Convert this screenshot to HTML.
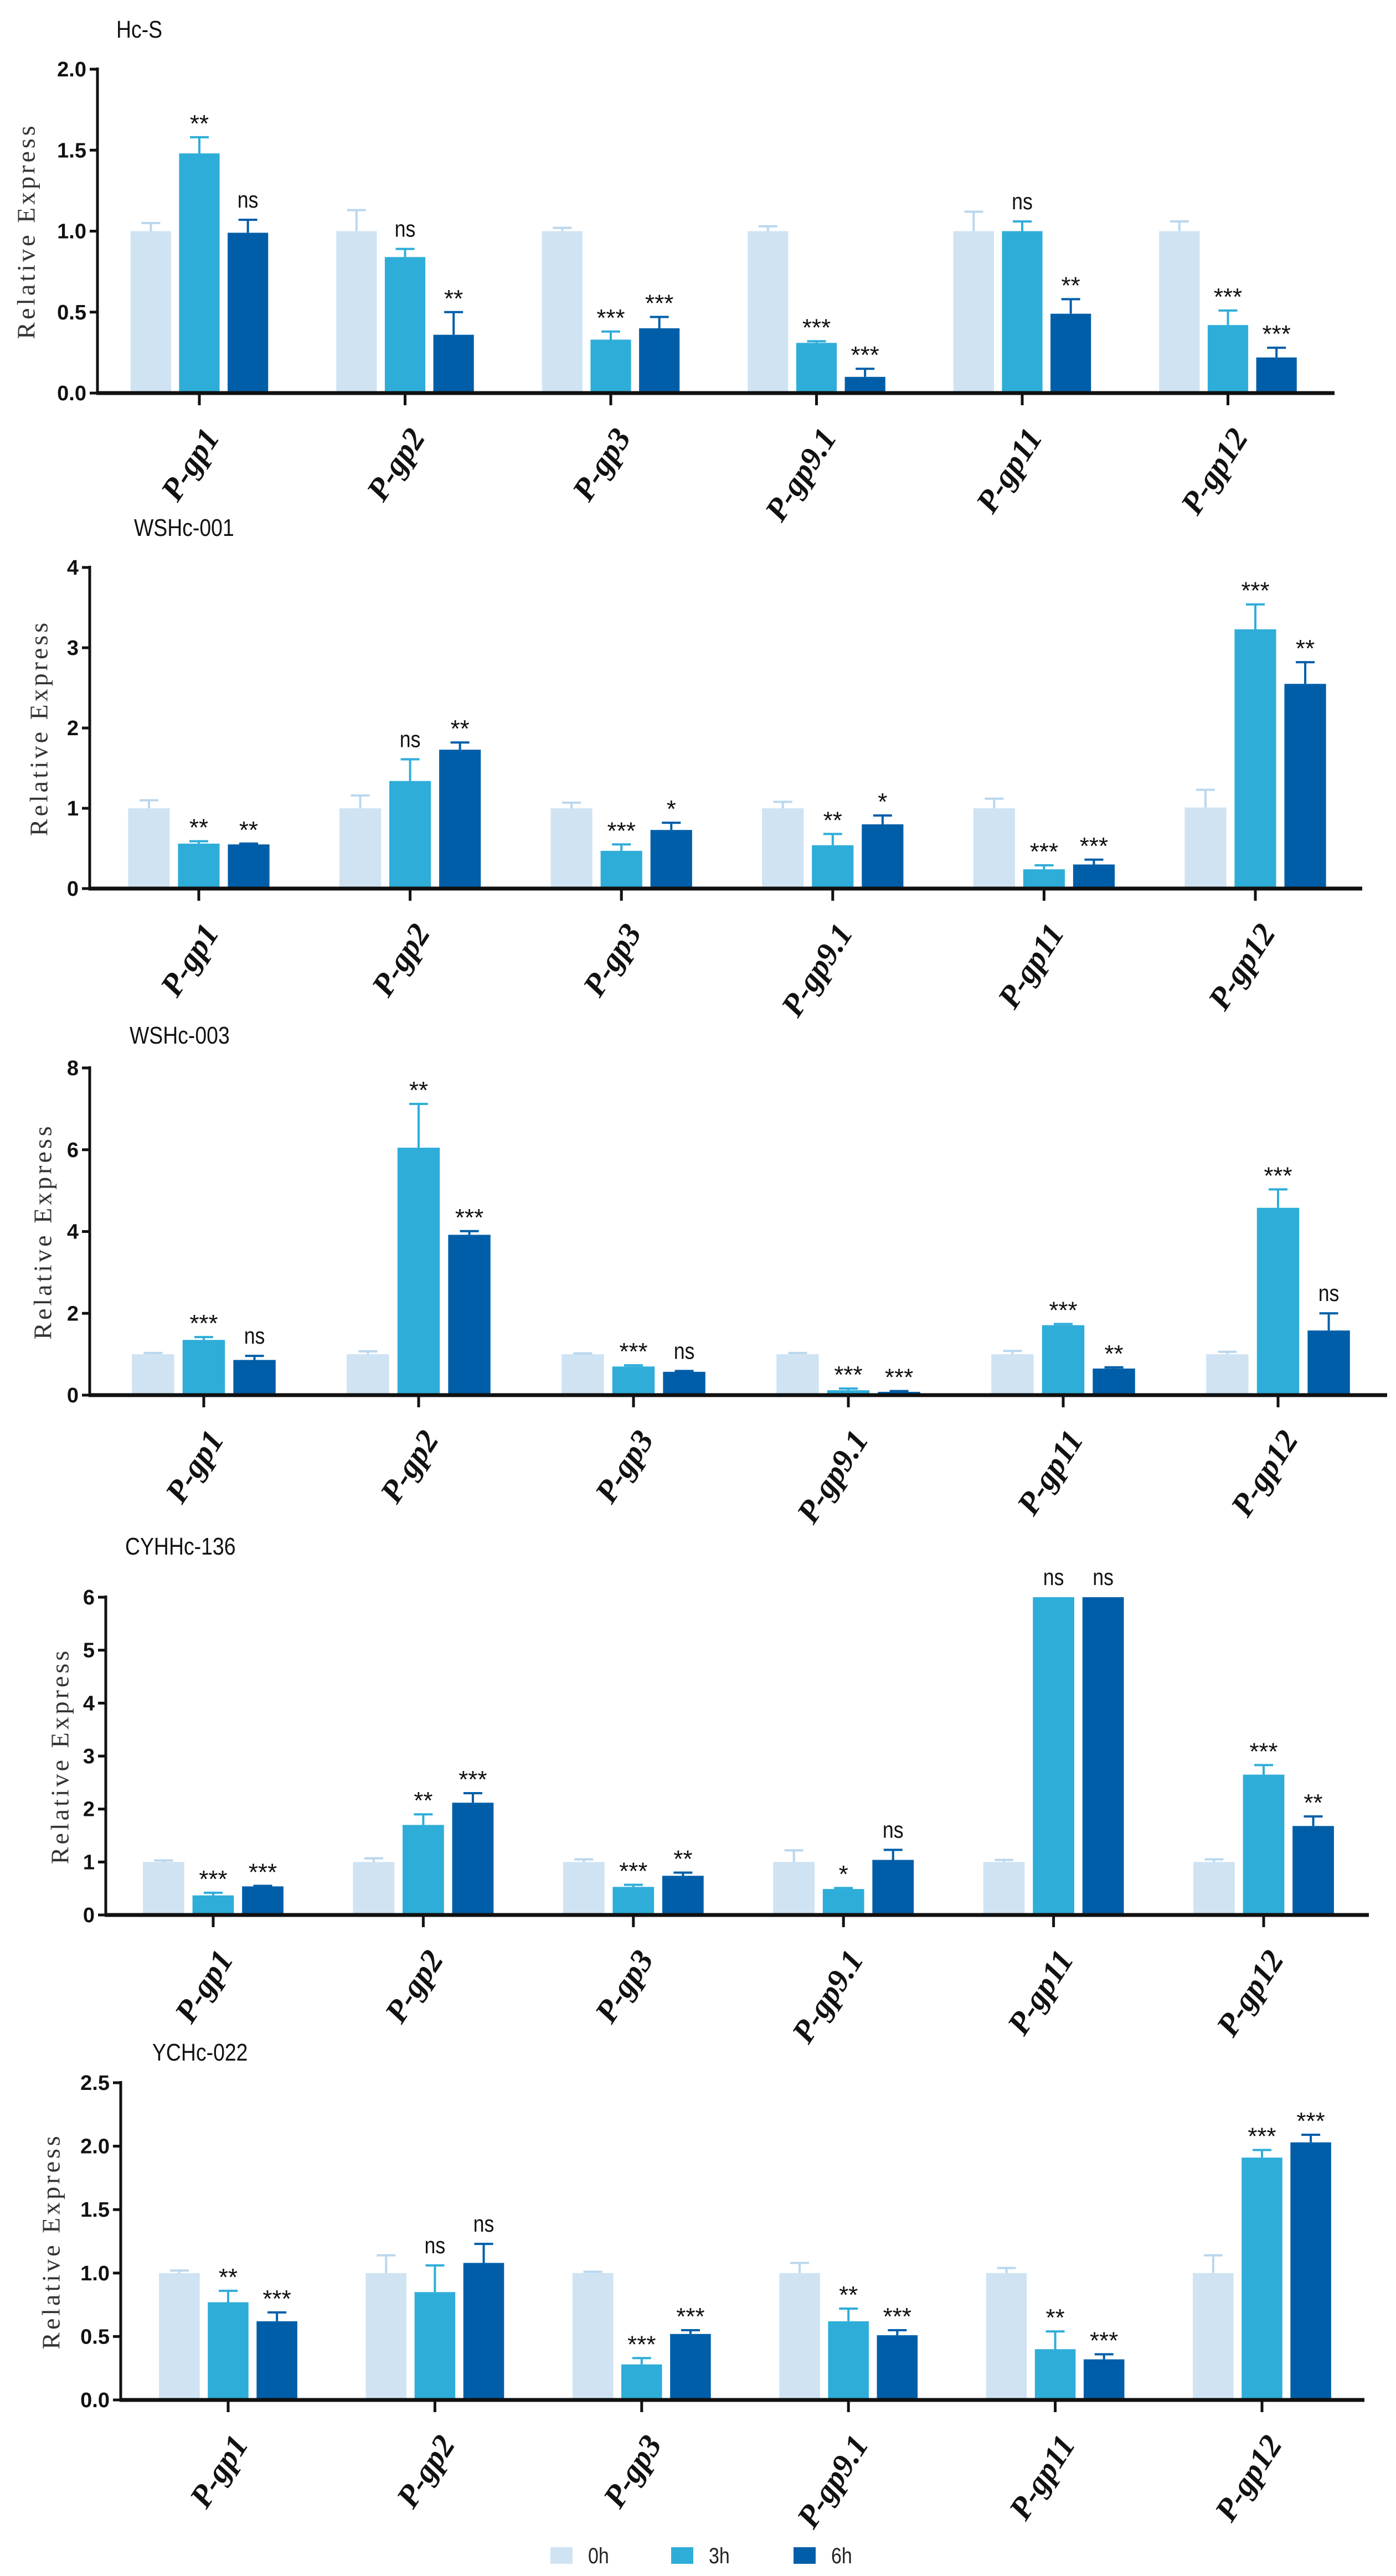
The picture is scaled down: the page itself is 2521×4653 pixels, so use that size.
<!DOCTYPE html>
<html><head><meta charset="utf-8"><style>
html,body{margin:0;padding:0;background:#fff;}
svg{display:block;}
</style></head><body>
<svg id="fig" width="2521" height="4653" viewBox="0 0 2521 4653" xmlns="http://www.w3.org/2000/svg"></svg>
<script>
const genes = ["P-gp1","P-gp2","P-gp3","P-gp9.1","P-gp11","P-gp12"];
const seriesNames = ["0h","3h","6h"];
// Panel 1: Hc-S
const hcs0 = [1,1,1,1,1,1];
const hcs0Err = [0.05,0.13,0.02,0.03,0.12,0.06];
const hcs3 = [1.48,0.84,0.33,0.31,1.0,0.42];
const hcs3Err = [0.10,0.05,0.05,0.01,0.06,0.09];
const hcs6 = [0.99,0.36,0.40,0.10,0.49,0.22];
const hcs6Err = [0.08,0.14,0.07,0.05,0.09,0.06];
const hcsSig3 = ["**","ns","***","***","ns","***"];
const hcsSig6 = ["ns","**","***","***","**","***"];
const hcsTicks = ["0.0","0.5","1.0","1.5","2.0"];
// Panel 2: WSHc-001
const w1_0 = [1,1,1,1,1,1.01];
const w1_0Err = [0.10,0.16,0.07,0.08,0.12,0.22];
const w1_3 = [0.56,1.34,0.47,0.54,0.24,3.23];
const w1_3Err = [0.03,0.27,0.08,0.14,0.05,0.31];
const w1_6 = [0.55,1.73,0.73,0.80,0.30,2.55];
const w1_6Err = [0.01,0.09,0.09,0.11,0.06,0.27];
const w1Sig3 = ["**","ns","***","**","***","***"];
const w1Sig6 = ["**","**","*","*","***","**"];
const w1Ticks = ["0","1","2","3","4"];
// Panel 3: WSHc-003
const w3_0 = [1,1,1,1,1,1];
const w3_0Err = [0.03,0.07,0.02,0.03,0.08,0.06];
const w3_3 = [1.35,6.05,0.70,0.12,1.71,4.58];
const w3_3Err = [0.07,1.07,0.03,0.04,0.03,0.45];
const w3_6 = [0.86,3.92,0.57,0.08,0.65,1.58];
const w3_6Err = [0.10,0.09,0.02,0.02,0.03,0.42];
const w3Sig3 = ["***","**","***","***","***","***"];
const w3Sig6 = ["ns","***","ns","***","**","ns"];
const w3Ticks = ["0","2","4","6","8"];
// Panel 4: CYHHc-136
const c_0 = [1,1,1,1,1,1];
const c_0Err = [0.03,0.07,0.05,0.22,0.04,0.05];
const c_3 = [0.37,1.70,0.53,0.49,6,2.65];
const c_3Err = [0.05,0.20,0.04,0.02,0,0.18];
const c_6 = [0.54,2.12,0.74,1.04,6,1.68];
const c_6Err = [0.01,0.18,0.06,0.19,0,0.18];
const cSig3 = ["***","**","***","*","ns","***"];
const cSig6 = ["***","***","**","ns","ns","**"];
const cTicks = ["0","1","2","3","4","5","6"];
// Panel 5: YCHc-022
const y_0 = [1,1,1,1,1,1];
const y_0Err = [0.02,0.14,0.01,0.08,0.04,0.14];
const y_3 = [0.77,0.85,0.28,0.62,0.40,1.91];
const y_3Err = [0.09,0.21,0.05,0.10,0.14,0.06];
const y_6 = [0.62,1.08,0.52,0.51,0.32,2.03];
const y_6Err = [0.07,0.15,0.03,0.04,0.04,0.06];
const ySig3 = ["**","ns","***","**","**","***"];
const ySig6 = ["***","ns","***","***","***","***"];
const yTicks = ["0.0","0.5","1.0","1.5","2.0","2.5"];

const NS = "http://www.w3.org/2000/svg";
const svg = document.getElementById("fig");
const colors = ["#cfe3f3","#2fadd9","#005ea8"];
const errColors = ["#b9d7ee","#2fadd9","#005ea8"];
function mk(tag, attrs, parent){
  const e = document.createElementNS(NS, tag);
  for (const k in attrs) e.setAttribute(k, attrs[k]);
  (parent||svg).appendChild(e);
  return e;
}
const panels = [
  {title:"Hc-S", tx:210, ty:68, ax:176, top:125, bot:710, xEnd:2410, c0:360, step:371.5, ytx:52,
   vals:[hcs0,hcs3,hcs6], errs:[hcs0Err,hcs3Err,hcs6Err], sig:[null,hcsSig3,hcsSig6], ticks:hcsTicks},
  {title:"WSHc-001", tx:242, ty:968, ax:162, top:1025, bot:1605, xEnd:2460, c0:359, step:381.6, ytx:75,
   vals:[w1_0,w1_3,w1_6], errs:[w1_0Err,w1_3Err,w1_6Err], sig:[null,w1Sig3,w1Sig6], ticks:w1Ticks},
  {title:"WSHc-003", tx:234, ty:1885, ax:162, top:1929, bot:2520, xEnd:2505, c0:368, step:388, ytx:82,
   vals:[w3_0,w3_3,w3_6], errs:[w3_0Err,w3_3Err,w3_6Err], sig:[null,w3Sig3,w3Sig6], ticks:w3Ticks},
  {title:"CYHHc-136", tx:226, ty:2808, ax:191, top:2885, bot:3459, xEnd:2472, c0:385, step:379.4, ytx:113,
   vals:[c_0,c_3,c_6], errs:[c_0Err,c_3Err,c_6Err], sig:[null,cSig3,cSig6], ticks:cTicks},
  {title:"YCHc-022", tx:275, ty:3722, ax:218, top:3762, bot:4335, xEnd:2464, c0:412, step:373.4, ytx:97,
   vals:[y_0,y_3,y_6], errs:[y_0Err,y_3Err,y_6Err], sig:[null,ySig3,ySig6], ticks:yTicks}
];
panels.forEach((p, pi) => {
  const g = mk("g", {});
  
  
  const ymax = parseFloat(p.ticks[p.ticks.length-1]);
  const yS = v => p.bot - (v / ymax) * (p.bot - p.top);
  const xS = i => p.c0 + i * p.step;
  const bw = p.step * 0.197, pitch = p.step * 0.236;
  const t = mk("text", {x:p.tx/0.85, y:p.ty, "font-family":"'Liberation Sans', sans-serif", "font-size":44, fill:"#111", transform:`scale(0.85,1)`}, g);
  t.textContent = p.title;
  
  
  for (let s = 0; s < 3; s++) {
    for (let i = 0; i < genes.length; i++) {
      const cx = xS(i) + (s-1) * pitch;
      const v = p.vals[s][i], e = p.errs[s][i];
      const r = mk("rect", {x:cx-bw/2, y:yS(v), width:bw, height:p.bot-yS(v), fill:colors[s]}, g);
      
      
      if (e > 0) {
        const eb = mk("path", {d:`M${cx} ${yS(v)} V${yS(v+e)} M${cx-17} ${yS(v+e)} H${cx+17}`, stroke:errColors[s], "stroke-width":4, fill:"none"}, g);
        
        
      }
      const sg = p.sig[s] ? p.sig[s][i] : null;
      if (sg) {
        const isNs = sg === "ns";
        const st = mk("text", {x:cx, y:yS(v+e) - (isNs ? 22 : 10), "text-anchor":"middle", "font-family":"'Liberation Sans', sans-serif", "font-size":isNs?42:44, fill:"#111"}, g);
        if (isNs) { st.setAttribute("transform", `translate(${cx},0) scale(0.85,1) translate(${-cx},0)`); }
        st.textContent = sg;
        
        
      }
    }
  }
  const ya = mk("line", {x1:p.ax, y1:p.top-3, x2:p.ax, y2:p.bot, stroke:"#111", "stroke-width":5}, g);
  
  
  const xa = mk("line", {x1:p.ax-2, y1:p.bot, x2:p.xEnd, y2:p.bot, stroke:"#111", "stroke-width":7}, g);
  
  
  p.ticks.forEach(tk => {
    const yy = yS(parseFloat(tk));
    mk("line", {x1:p.ax-14, y1:yy, x2:p.ax, y2:yy, stroke:"#111", "stroke-width":5}, g);
    const tl = mk("text", {x:p.ax-20, y:yy+13, "text-anchor":"end", "font-family":"'Liberation Sans', sans-serif", "font-weight":"bold", "font-size":38, fill:"#111"}, g);
    tl.textContent = tk;
    
    
  });
  genes.forEach((gn, i) => {
    const x = xS(i);
    mk("line", {x1:x, y1:p.bot, x2:x, y2:p.bot+22, stroke:"#111", "stroke-width":5}, g);
    const ax = x + 38, ay = p.bot + 80;
    const xl = mk("text", {x:ax, y:ay, "text-anchor":"end", "font-family":"'Liberation Serif', serif", "font-weight":"bold", "font-style":"italic", "font-size":58, fill:"#111", transform:`rotate(-57 ${ax} ${ay})`}, g);
    xl.textContent = gn;
    
    
  });
  const cy = (p.top + p.bot) / 2;
  const yt = mk("text", {x:p.ytx, y:cy, "text-anchor":"middle", "font-family":"'Liberation Serif', serif", "font-size":46, "letter-spacing":5, fill:"#333", transform:`rotate(-90 ${p.ytx} ${cy})`, "dominant-baseline":"middle"}, g);
  yt.textContent = "Relative Express";
  
  
});
const legX = [994, 1212, 1433];
const lg = mk("g", {});


seriesNames.forEach((nm, s) => {
  const r = mk("rect", {x:legX[s], y:4601, width:40, height:30, fill:colors[s]}, lg);
  
  
  const t = mk("text", {x:(legX[s]+68)/0.85, y:4630, "font-family":"'Liberation Sans', sans-serif", "font-size":40, fill:"#222", transform:"scale(0.85,1)"}, lg);
  t.textContent = nm;
  
  
});
</script>
</body></html>
